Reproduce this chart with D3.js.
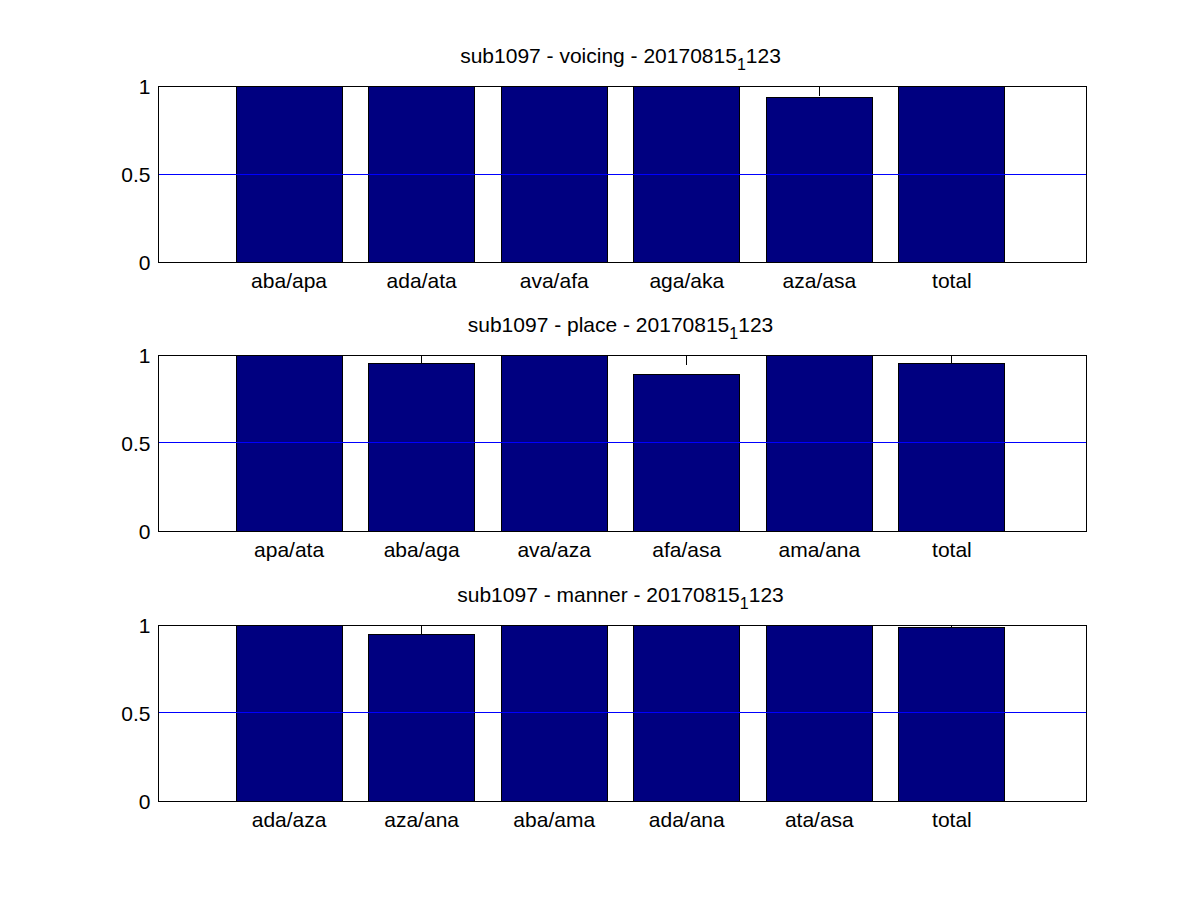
<!doctype html>
<html lang="en">
<head>
    <meta charset="utf-8">
    <script src="https://d3js.org/d3.v7.min.js"></script>
    <title>sub1097</title>
    <style>
        body { margin: 0; background: #fff; }
        text { font-family: "Liberation Sans", Arial, sans-serif; fill: #000; }
    </style>
</head>
<body>
    <div id="chart"></div>

    <script>
        // datos de cada panel
        var titles = ["sub1097 - voicing - 20170815", "sub1097 - place - 20170815", "sub1097 - manner - 20170815"];
        var titleSub = "1";
        var titleTail = "123";

        var voicingLabels = ["aba/apa", "ada/ata", "ava/afa", "aga/aka", "aza/asa", "total"];
        var voicingValues = [1, 1, 1, 1, 0.9375, 1];

        var placeLabels = ["apa/ata", "aba/aga", "ava/aza", "afa/asa", "ama/ana", "total"];
        var placeValues = [1, 0.952, 1, 0.892, 1, 0.955];

        var mannerLabels = ["ada/aza", "aza/ana", "aba/ama", "ada/ana", "ata/asa", "total"];
        var mannerValues = [1, 0.949, 1, 1, 1, 0.99];

        var yTicks = [0, 0.5, 1];
        var refLine = 0.5;

        var panels = [
            { title: titles[0], labels: voicingLabels, values: voicingValues, top: 86 },
            { title: titles[1], labels: placeLabels, values: placeValues, top: 355 },
            { title: titles[2], labels: mannerLabels, values: mannerValues, top: 625 }
        ];

        var W = 1200, H = 900;
        var left = 158, right = 1086, ph = 176;

        var svg = d3.select("#chart")
            .append("svg")
            .attr("width", W)
            .attr("height", H)
            .attr("shape-rendering", "crispEdges");

        svg.append("rect").attr("width", W).attr("height", H).style("fill", "#fff");

        panels.forEach(function (p) {
            var x = d3.scaleLinear().domain([0, p.labels.length + 1]).range([left, right]);
            var y = d3.scaleLinear().domain([0, 1]).range([p.top + ph, p.top]);
            var bw = x(0.8) - x(0);

            var g = svg.append("g").attr("transform", "translate(0.5,0.5)");

            // ticks arriba (quedan detras de las barras)
            g.selectAll("line.tk")
                .data(p.labels)
                .enter()
                .append("line")
                .attr("x1", function (d, i) { return Math.round(x(i + 1)) - 2; })
                .attr("x2", function (d, i) { return Math.round(x(i + 1)) - 2; })
                .attr("y1", p.top)
                .attr("y2", p.top + 9)
                .style("stroke", "#000")
                .style("stroke-width", 1);

            g.selectAll("rect.bar")
                .data(p.values)
                .enter()
                .append("rect")
                .attr("x", function (d, i) { return Math.round(x(i + 1) - bw / 2) - 2; })
                .attr("y", function (d) { return Math.round(y(d)); })
                .attr("width", Math.round(bw))
                .attr("height", function (d) { return Math.round(y(0) - y(d)); })
                .style("fill", "#000080")
                .style("stroke", "#000")
                .style("stroke-width", 1);

            // linea de referencia (como rect de 1px, en fila par)
            var ry = Math.round(y(refLine));
            if (ry % 2 === 1) ry = ry - 1;
            svg.append("rect")
                .attr("x", left)
                .attr("y", ry)
                .attr("width", right - left)
                .attr("height", 1)
                .style("fill", "#0000ff");

            // caja
            svg.append("rect")
                .attr("x", left + 0.5).attr("y", p.top + 0.5)
                .attr("width", right - left).attr("height", ph)
                .style("fill", "none")
                .style("stroke", "#000")
                .style("stroke-width", 1);

            g.selectAll("text.xl")
                .data(p.labels)
                .enter()
                .append("text")
                .attr("x", function (d, i) { return x(i + 1) - 2; })
                .attr("y", p.top + ph + 25)
                .attr("text-anchor", "middle")
                .style("font-size", "21px")
                .text(function (d) { return d; });

            g.selectAll("text.yl")
                .data(yTicks)
                .enter()
                .append("text")
                .attr("x", left - 8)
                .attr("y", function (d) { return y(d) + 7; })
                .attr("text-anchor", "end")
                .style("font-size", "21px")
                .text(function (d) { return d; });

            var t = g.append("text")
                .attr("x", (left + right) / 2 - 2)
                .attr("y", p.top - 24)
                .attr("text-anchor", "middle")
                .style("font-size", "21px");
            t.append("tspan").text(p.title);
            t.append("tspan").attr("dy", 7).style("font-size", "16px").text(titleSub);
            t.append("tspan").attr("dy", -7).text(titleTail);
        });
    </script>
</body>
</html>
